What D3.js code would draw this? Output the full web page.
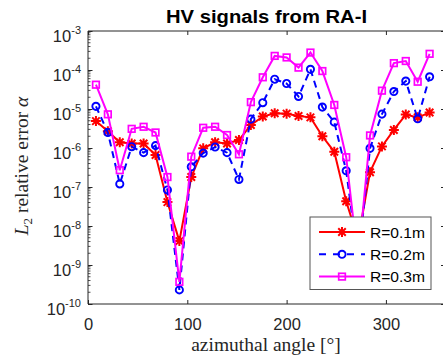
<!DOCTYPE html>
<html>
<head>
<meta charset="utf-8">
<script src="https://cdn.jsdelivr.net/npm/d3@7"></script>
<style>
  body { margin: 0; background: #fff; }
  svg { display: block; }
</style>
</head>
<body>
<div id="container"></div>
<script>
let w = 443;
let h = 360;

// azimuthal angles (deg) and L2 relative error per radius
let angles = [8, 20, 32, 44, 56, 68, 80, 92, 104, 116, 128, 140, 152, 164, 176,
  188, 200, 212, 224, 236, 248, 260, 272, 284, 296, 308, 320, 332, 344];

let errR1 = [4.9e-6, 2.7e-6, 1.4e-6, 1.3e-6, 1.3e-6, 6.6e-7, 4.1e-8, 4.1e-9, 1.8e-7, 9.8e-7,
  1.4e-6, 1.3e-6, 1.6e-6, 3.9e-6, 6.4e-6, 7.8e-6, 7.6e-6, 6.6e-6, 6.1e-6, 2.0e-6,
  8.0e-7, 4.3e-8, 4.5e-9, 2.4e-7, 1.1e-6, 2.9e-6, 7.2e-6, 6.1e-6, 8.1e-6];

let errR2 = [1.17e-5, 2.5e-6, 1.2e-7, 1.08e-6, 7.6e-7, 1.15e-6, 8.4e-8, 2.3e-10, 3.3e-7, 7.4e-7,
  1.06e-6, 7.6e-7, 1.56e-7, 5.5e-6, 1.45e-5, 5.8e-5, 4.5e-5, 2.1e-5, 1.04e-4, 1.12e-5,
  4.6e-6, 2.6e-7, 1.3e-9, 9.8e-7, 7.4e-6, 2.8e-5, 5.2e-5, 5.6e-6, 6.7e-5];

let errR3 = [4.2e-5, 7.3e-6, 2.7e-7, 3.1e-6, 3.5e-6, 2.5e-6, 1.8e-7, 3.7e-10, 6.0e-7, 3.3e-6,
  3.5e-6, 2.15e-6, 6.9e-7, 1.5e-5, 6.5e-5, 2.3e-4, 2.1e-4, 1.15e-4, 2.8e-4, 9.4e-5,
  1.27e-5, 5.8e-7, 1.2e-9, 2.1e-6, 2.95e-5, 1.5e-4, 1.7e-4, 5.0e-5, 2.6e-4];

let seriesNames = ["R=0.1m", "R=0.2m", "R=0.3m"];
let xTicks = [0, 100, 200, 300];
let yExponents = [-10, -9, -8, -7, -6, -5, -4, -3];

let axisColor = "#262626";
let sans = "'Liberation Sans', Arial, Helvetica, sans-serif";
let serif = "'Liberation Serif', 'Times New Roman', serif";

let viz = d3.select("#container")
  .append("svg")
    .attr("width", w)
    .attr("height", h)
    .style("background-color", "white")
;

// plot box (right edge runs just past the window, like the cropped original)
let boxLeft = 88, boxRight = 445.5, boxTop = 31, boxBottom = 304;

let xScale = d3.scaleLinear().domain([0, 360]).range([boxLeft, boxRight]);
let yScale = d3.scaleLog().domain([1e-10, 1e-3]).range([boxBottom, boxTop]);

// series table built from the arrays
let series = [
  {name: seriesNames[0], values: errR1, color: "#ff0000", dash: null, marker: "star"},
  {name: seriesNames[1], values: errR2, color: "#0000ff", dash: "7,5", marker: "circle"},
  {name: seriesNames[2], values: errR3, color: "#ff00ff", dash: null, marker: "square"}
];

function drawMarker(g, type, color){
  if (type == "star") {
    let s = 5, d = s * 0.75;
    g.append("path")
      .attr("d", "M" + (-s) + ",0H" + s + "M0," + (-s) + "V" + s +
        "M" + (-d) + "," + (-d) + "L" + d + "," + d +
        "M" + (-d) + "," + d + "L" + d + "," + (-d))
      .attr("stroke", color)
      .attr("stroke-width", 2)
      .attr("fill", "none");
  } else if (type == "circle") {
    g.append("circle")
      .attr("r", 3.6)
      .attr("stroke", color)
      .attr("stroke-width", 1.9)
      .attr("fill", "none");
  } else {
    g.append("rect")
      .attr("x", -3.3).attr("y", -3.3)
      .attr("width", 6.6).attr("height", 6.6)
      .attr("stroke", color)
      .attr("stroke-width", 1.7)
      .attr("fill", "none");
  }
}

// LINES + MARKERS
let lineMaker = d3.line()
  .x(function(d){ return xScale(d[0]); })
  .y(function(d){ return yScale(d[1]); });

let vizGroup = viz.append("g").attr("class", "vizGroup");

series.forEach(function(s){
  let pts = angles.map(function(a, i){ return [a, s.values[i]]; });
  vizGroup.append("path")
    .datum(pts)
    .attr("d", lineMaker)
    .attr("fill", "none")
    .attr("stroke", s.color)
    .attr("stroke-width", 2)
    .attr("stroke-dasharray", s.dash)
  ;
  vizGroup.selectAll(".m-" + s.marker).data(pts).enter()
    .append("g")
      .attr("class", "m-" + s.marker)
      .attr("transform", function(d){ return "translate(" + xScale(d[0]) + "," + yScale(d[1]) + ")"; })
      .each(function(){ drawMarker(d3.select(this), s.marker, s.color); })
  ;
});

// AXES
let axes = viz.append("g").attr("class", "axes");

// box
axes.append("path")
  .attr("d", "M" + boxLeft + "," + boxTop + "H" + boxRight + "M" + boxLeft + "," + boxTop + "V" + boxBottom + "H" + boxRight + "V" + boxTop)
  .attr("fill", "none")
  .attr("stroke", axisColor)
  .attr("stroke-width", 1);

// x ticks bottom (inward) with labels
let xAxisGroup = axes.append("g")
  .attr("transform", "translate(0," + boxBottom + ")")
  .call(d3.axisBottom(xScale).tickValues(xTicks).tickSize(-4).tickPadding(14.5).tickFormat(d3.format("d")));
xAxisGroup.select(".domain").remove();
xAxisGroup.selectAll("line").attr("stroke", axisColor);
xAxisGroup.selectAll("text")
  .attr("fill", axisColor)
  .style("font-family", sans)
  .style("font-size", "16.5px");

// x ticks top (inward)
let xTopGroup = axes.append("g")
  .attr("transform", "translate(0," + boxTop + ")")
  .call(d3.axisTop(xScale).tickValues(xTicks).tickSize(-4).tickFormat(""));
xTopGroup.select(".domain").remove();
xTopGroup.selectAll("line").attr("stroke", axisColor);

// y major ticks left and right
let yTickValues = yExponents.map(function(e){ return Math.pow(10, e); });
let yAxisGroup = axes.append("g")
  .attr("transform", "translate(" + boxLeft + ",0)")
  .call(d3.axisLeft(yScale).tickValues(yTickValues).tickSize(-4.5).tickFormat(""));
yAxisGroup.select(".domain").remove();
yAxisGroup.selectAll("line").attr("stroke", axisColor);

let yRightGroup = axes.append("g")
  .attr("transform", "translate(" + boxRight + ",0)")
  .call(d3.axisRight(yScale).tickValues(yTickValues).tickSize(-4.5).tickFormat(""));
yRightGroup.select(".domain").remove();
yRightGroup.selectAll("line").attr("stroke", axisColor);

// y minor ticks on the left (2..9 per decade)
let minorValues = [];
yExponents.slice(0, -1).forEach(function(e){
  for (let k = 2; k <= 9; k++) minorValues.push(k * Math.pow(10, e));
});
axes.selectAll(".minor").data(minorValues).enter()
  .append("line")
    .attr("class", "minor")
    .attr("x1", boxLeft).attr("x2", boxLeft + 2.5)
    .attr("y1", function(d){ return yScale(d); })
    .attr("y2", function(d){ return yScale(d); })
    .attr("stroke", axisColor)
    .attr("stroke-width", 0.8)
;

// y tick labels 10^e
let yLabels = axes.selectAll(".ylab").data(yExponents).enter()
  .append("text")
    .attr("class", "ylab")
    .attr("x", 81)
    .attr("y", function(d){ return yScale(Math.pow(10, d)) + 11; })
    .attr("text-anchor", "end")
    .attr("fill", axisColor)
    .style("font-family", sans)
    .style("font-size", "16.5px")
;
yLabels.append("tspan").text("10");
yLabels.append("tspan")
  .attr("dy", -8.5)
  .style("font-size", "11px")
  .text(function(d){ return d; });

// TITLE + AXIS LABELS
viz.append("text")
  .attr("x", 266.5)
  .attr("y", 22.5)
  .attr("text-anchor", "middle")
  .attr("textLength", 201)
  .attr("lengthAdjust", "spacingAndGlyphs")
  .style("font-family", sans)
  .style("font-size", "18px")
  .style("font-weight", "bold")
  .text("HV signals from RA-I");

viz.append("text")
  .attr("x", 266)
  .attr("y", 351)
  .attr("text-anchor", "middle")
  .attr("fill", axisColor)
  .style("font-family", serif)
  .style("font-size", "19.5px")
  .text("azimuthal angle [\u00B0]");

let yTitle = viz.append("text")
  .attr("transform", "translate(28,166) rotate(-90)")
  .attr("text-anchor", "middle")
  .attr("fill", axisColor)
  .style("font-family", serif)
  .style("font-size", "19.5px");
yTitle.append("tspan").style("font-style", "italic").text("L");
yTitle.append("tspan").attr("dy", 4).style("font-size", "13px").text("2");
yTitle.append("tspan").attr("dy", -4).text(" relative error ");
yTitle.append("tspan").style("font-style", "italic").text("\u03B1");

// LEGEND
let legend = viz.append("g").attr("class", "legend").attr("transform", "translate(310,217)");
legend.append("rect")
  .attr("width", 121)
  .attr("height", 72.5)
  .attr("fill", "white")
  .attr("stroke", "#555")
  .attr("stroke-width", 1);

let legendRows = legend.selectAll(".row").data(series).enter()
  .append("g")
    .attr("class", "row")
    .attr("transform", function(d, i){ return "translate(0," + (15 + i * 22.3) + ")"; })
;
legendRows.append("line")
  .attr("x1", 9).attr("x2", 55)
  .attr("stroke", function(d){ return d.color; })
  .attr("stroke-width", 2)
  .attr("stroke-dasharray", function(d){ return d.dash ? "7,7" : null; });
legendRows.append("g")
  .attr("transform", "translate(32,0)")
  .each(function(d){ drawMarker(d3.select(this), d.marker, d.color); });
legendRows.append("text")
  .attr("x", 60)
  .attr("y", 5.5)
  .attr("textLength", 55)
  .attr("lengthAdjust", "spacingAndGlyphs")
  .style("font-family", sans)
  .style("font-size", "15px")
  .text(function(d){ return d.name; });
</script>
</body>
</html>
